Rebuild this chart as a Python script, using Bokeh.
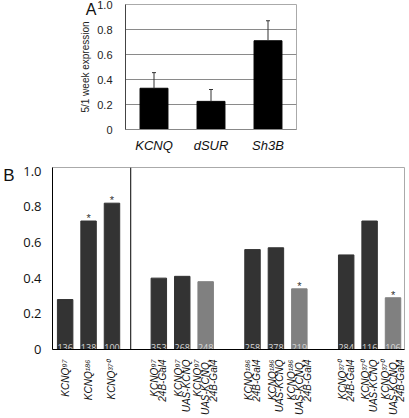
import numpy as np
from bokeh.plotting import figure
from bokeh.models import (ColumnDataSource, Whisker, TeeHead, Span, FixedTicker, Range1d,
                          FactorRange, LinearAxis)
from bokeh.embed import file_html
from bokeh.resources import INLINE
from bokeh.core.properties import value

# ---------------- Panel A data ----------------
a_genes = ["KCNQ", "dSUR", "Sh3B"]
a_values = [0.33, 0.225, 0.71]
a_err_top = [0.455, 0.32, 0.87]
ticks = [0, 0.2, 0.4, 0.6, 0.8, 1.0]
tick_labels = ["0", "0.2", "0.4", "0.6", "0.8", "1.0"]

# ---------------- Panel B data ----------------
b_labels = ["KCNQ⁹⁷", "KCNQ¹⁸⁶", "KCNQ³⁷⁰",
            "KCNQ⁹⁷\n24B-Gal4", "KCNQ⁹⁷\nUAS-KCNQ", "KCNQ⁹⁷\nUAS-KCNQ,\n24B-Gal4",
            "KCNQ¹⁸⁶\n24B-Gal4", "KCNQ¹⁸⁶\nUAS-KCNQ", "KCNQ¹⁸⁶\nUAS-KCNQ,\n24B-Gal4",
            "KCNQ³⁷⁰\n24B-Gal4", "KCNQ³⁷⁰\nUAS-KCNQ", "KCNQ³⁷⁰\nUAS-KCNQ,\n24B-Gal4"]
b_group = [0, 0, 0, 1, 1, 1, 2, 2, 2, 3, 3, 3]
b_index = [0, 1, 2, 0, 1, 2, 0, 1, 2, 0, 1, 2]
b_values = [0.28, 0.72, 0.82, 0.40, 0.41, 0.38, 0.56, 0.57, 0.34, 0.53, 0.72, 0.29]
b_counts = [136, 138, 100, 353, 268, 248, 258, 378, 219, 284, 116, 106]
b_signif = [False, True, True, False, False, False, False, False, True, False, False, True]
b_rescue = [False, False, False, False, False, True, False, False, True, False, False, True]

SANS = "Liberation Sans"

# ================= Panel A =================
pa = figure(width=409, height=155, x_range=FactorRange(factors=a_genes, range_padding=0),
            y_range=Range1d(0, 1.0), output_backend="svg", toolbar_location=None,
            min_border_left=125, min_border_right=113, min_border_top=4, min_border_bottom=19)
src_a = ColumnDataSource(dict(gene=a_genes, val=a_values, err=a_err_top))
pa.vbar(x="gene", top="val", width=0.49, source=src_a, fill_color="black", line_color="black")
pa.add_layout(Whisker(source=src_a, base="gene", lower="val", upper="err",
                      line_color="#333333", line_width=1,
                      upper_head=TeeHead(size=4, line_color="#333333", line_width=1),
                      lower_head=None, level="overlay"))
pa.yaxis.ticker = FixedTicker(ticks=ticks)
pa.yaxis.major_label_overrides = {t: l for t, l in zip(ticks, tick_labels)}
pa.yaxis.major_tick_line_color = None
pa.yaxis.minor_tick_line_color = None
pa.yaxis.axis_line_color = "#444444"
pa.yaxis.major_label_standoff = 7
pa.yaxis.major_label_text_font = SANS
pa.yaxis.major_label_text_font_size = "11px"
pa.yaxis.major_label_text_color = "#222222"
pa.yaxis.axis_label = "5/1 week expression"
pa.yaxis.axis_label_text_font = SANS
pa.yaxis.axis_label_text_font_size = "10px"
pa.yaxis.axis_label_text_font_style = "normal"
pa.yaxis.axis_label_text_color = "#222222"
pa.yaxis.axis_label_standoff = 3
pa.xaxis.major_tick_line_color = None
pa.xaxis.axis_line_color = "#888888"
pa.xaxis.major_label_standoff = 2
pa.xaxis.major_label_text_font = SANS
pa.xaxis.major_label_text_font_size = "13px"
pa.xaxis.major_label_text_font_style = "italic"
pa.xaxis.major_label_text_color = "#111111"
pa.xgrid.grid_line_color = None
pa.ygrid.ticker = FixedTicker(ticks=ticks)
pa.ygrid.grid_line_color = "#8a8a8a"
pa.ygrid.level = "underlay"
pa.outline_line_color = "#aaaaaa"
# panel letter as a label-only axis
pa.extra_y_ranges = {"lab": Range1d(0, 1.0)}
pa.add_layout(LinearAxis(y_range_name="lab", ticker=FixedTicker(ticks=[0.96]),
                         major_label_overrides={0.96: "A"}, axis_line_color=None,
                         major_tick_line_color=None, minor_tick_line_color=None,
                         major_label_text_font=SANS, major_label_text_font_size="16px",
                         major_label_text_color="#111111", major_label_standoff=-25), "left")

# ================= Panel B =================
b_x = [4 * g + i for g, i in zip(b_group, b_index)]
b_colors = ["#808080" if r else "#333333" for r in b_rescue]
pb = figure(width=409, height=263, x_range=Range1d(-0.54, 14.49), y_range=Range1d(0, 1.02),
            output_backend="svg", toolbar_location=None,
            min_border_left=38, min_border_right=5, min_border_top=12, min_border_bottom=59)
src_b = ColumnDataSource(dict(x=b_x, val=b_values, color=b_colors,
                              cnt=[str(c) for c in b_counts]))
pb.vbar(x="x", top="val", width=0.66, source=src_b, fill_color="color", line_color="color")
pb.text(x="x", y=0, text="cnt", source=src_b, text_align="center", text_baseline="alphabetic",
        text_font=value("Open Sans"), text_font_size="9px", text_color="#d8d8d8", y_offset=-2)
sig_src = ColumnDataSource(dict(x=[x for x, s in zip(b_x, b_signif) if s],
                                val=[v for v, s in zip(b_values, b_signif) if s]))
pb.text(x="x", y="val", text=value("*"), source=sig_src, text_align="center",
        text_baseline="middle", text_font=value(SANS), text_font_size="11px",
        text_color="#333333", y_offset=-3)
pb.add_layout(Span(location=2.8, dimension="height", line_color="black", line_width=1))

pb.xaxis.ticker = FixedTicker(ticks=b_x)
pb.xaxis.major_label_overrides = {x: l for x, l in zip(b_x, b_labels)}
pb.xaxis.major_label_orientation = np.pi / 2
pb.xaxis.major_label_text_font = SANS
pb.xaxis.major_label_text_font_size = "10px"
pb.xaxis.major_label_text_font_style = "italic"
pb.xaxis.major_label_text_line_height = 0.7
pb.xaxis.major_label_text_color = "#111111"
pb.xaxis.major_label_standoff = 4
pb.xaxis.major_tick_line_color = None
pb.xaxis.minor_tick_line_color = None
pb.xaxis.axis_line_color = "black"

pb.yaxis.ticker = FixedTicker(ticks=ticks)
pb.yaxis.major_label_overrides = {t: l for t, l in zip(ticks, tick_labels)}
pb.yaxis.major_tick_line_color = None
pb.yaxis.minor_tick_line_color = None
pb.yaxis.axis_line_color = "black"
pb.yaxis.major_label_standoff = 5
pb.yaxis.major_label_text_font = "Open Sans"
pb.yaxis.major_label_text_font_size = "13px"
pb.yaxis.major_label_text_color = "#111111"
pb.xgrid.grid_line_color = None
pb.ygrid.grid_line_color = None
pb.outline_line_color = "#aaaaaa"
pb.extra_y_ranges = {"lab": Range1d(0, 1.02)}
pb.add_layout(LinearAxis(y_range_name="lab", ticker=FixedTicker(ticks=[0.975]),
                         major_label_overrides={0.975: "B"}, axis_line_color=None,
                         major_tick_line_color=None, minor_tick_line_color=None,
                         major_label_text_font=SANS, major_label_text_font_size="17px",
                         major_label_text_color="#111111", major_label_standoff=0), "left")

open("out.html", "w").write(file_html([pa, pb], INLINE))
